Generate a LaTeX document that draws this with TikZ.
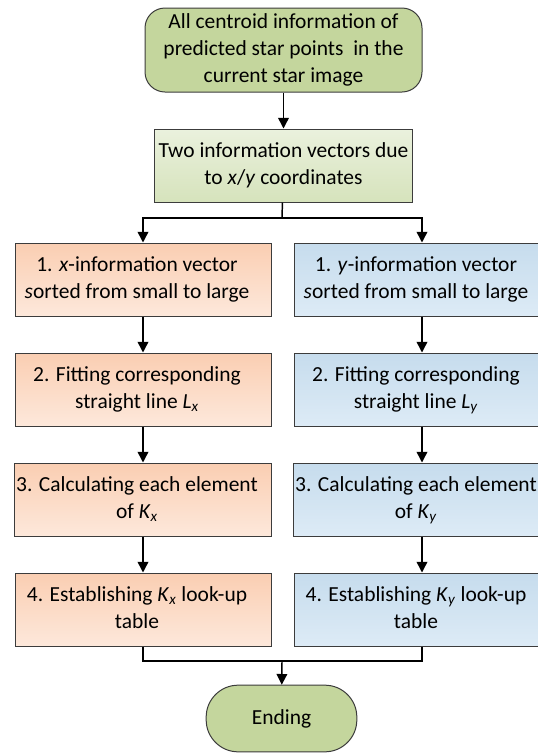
\documentclass[tikz,border=0pt]{standalone}
\usepackage{fontspec}
\setmainfont{Carlito}
\usetikzlibrary{positioning, arrows.meta}

\definecolor{termgreen}{RGB}{196,214,157}
\definecolor{vecgreenA}{RGB}{234,241,221}
\definecolor{vecgreenB}{RGB}{214,227,188}
\definecolor{peachA}{RGB}{250,206,178}
\definecolor{peachB}{RGB}{253,232,219}
\definecolor{blueA}{RGB}{198,220,237}
\definecolor{blueB}{RGB}{221,235,246}
\definecolor{edge}{RGB}{60,60,60}

\newcommand{\sub}[1]{\textsubscript{\textit{#1}}}
% step text sits a little left of the box centre
\newcommand{\steptext}[1]{\begin{tabular}{@{}c@{\hspace{9pt}}}#1\end{tabular}}

\tikzset{
  box/.style={draw=edge, line width=0.75pt, minimum width=192pt, minimum height=54.75pt,
              align=center, inner sep=1pt},
  startstop/.style={box, fill=termgreen, rounded corners=15pt},
  vecbox/.style={box, minimum width=193.5pt, top color=vecgreenA, bottom color=vecgreenB},
  xbox/.style={box, top color=peachA, bottom color=peachB},
  ybox/.style={box, top color=blueA, bottom color=blueB},
  arr/.style={-{Triangle[length=8pt,width=8pt]}},
  link/.style={line width=1.1pt}
}

\begin{document}
\begin{tikzpicture}[x=0.75pt, y=-0.75pt, node distance=27pt,
  every node/.style={font=\fontsize{16.1}{20}\selectfont}]
\useasboundingbox (0,0) rectangle (538,754);

% start and the vector split
\node[startstop, minimum width=207.75pt, minimum height=63pt] (start) at (283.5,50)
  {All centroid information of\\predicted star points\ \ in the\\current star image};
\node[vecbox, below=27pt of start] (vec)
  {Two information vectors due\\to \textit{x}/\textit{y} coordinates};

% x column
\node[xbox] (x1) at (143,279.5) {\steptext{1. \textit{x}-information vector\\\textit{s}orted from small to large}};
\node[xbox, below=of x1] (x2) {\steptext{2. Fitting corresponding\\straight line \textit{L}\sub{x}}};
\node[xbox, below=of x2] (x3) {\steptext{3. Calculating each element\\of \textit{K}\sub{x}}};
\node[xbox, below=of x3] (x4) {\steptext{4. Establishing \textit{K}\sub{x} look-up\\table}};

% y column
\node[ybox] (y1) at (422,279.5) {\steptext{1. \textit{y}-information vector\\\textit{s}orted from small to large}};
\node[ybox, below=of y1] (y2) {\steptext{2. Fitting corresponding\\straight line \textit{L}\sub{y}}};
\node[ybox, below=of y2] (y3) {\steptext{3. Calculating each element\\of \textit{K}\sub{y}}};
\node[ybox, below=of y3] (y4) {\steptext{4. Establishing \textit{K}\sub{y} look-up\\table}};

\node[startstop, minimum width=113pt, minimum height=50pt, rounded corners=24pt] (end)
  at (281.5,718.5) {Ending};

\coordinate (split) at (282,218);
\coordinate (merge) at (282,661);

% connectors
\draw[link, arr] (start) -- (vec);
\draw[link] (vec) -- (split);
\draw[link, arr] (split) -| (x1);
\draw[link, arr] (split) -| (y1);
\foreach \a/\b in {x1/x2, x2/x3, x3/x4, y1/y2, y2/y3, y3/y4}
  \draw[link, arr] (\a) -- (\b);
\draw[link] (x4) |- (merge);
\draw[link] (y4) |- (merge);
\draw[link, arr] (merge) -- (end);
\end{tikzpicture}
\end{document}
